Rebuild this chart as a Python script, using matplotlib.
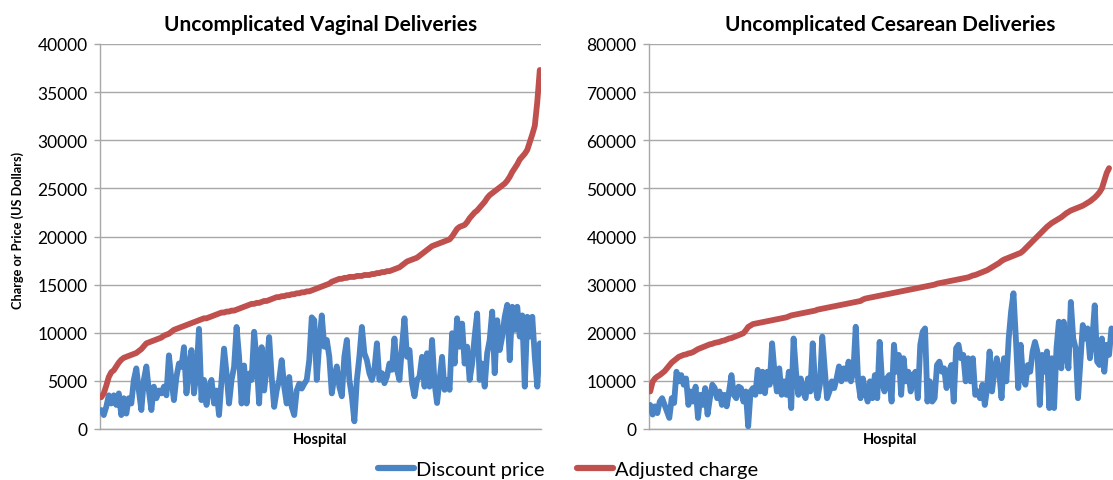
import matplotlib
matplotlib.use("Agg")
import matplotlib.pyplot as plt
from matplotlib.lines import Line2D
import numpy as np

plt.rcParams['font.family'] = ['Lato', 'DejaVu Sans']

titles = ["Uncomplicated Vaginal Deliveries", "Uncomplicated Cesarean Deliveries"]
series_names = ["Discount price", "Adjusted charge"]
y_label = "Charge or Price (US Dollars)"
x_label = "Hospital"

vag_discount = [
    1970, 1450, 2300, 3500, 2650, 3500, 2500, 3700, 1450, 3200,
    1600, 3200, 2650, 5100, 6300, 4000, 1970, 5100, 6500, 4000,
    1970, 4400, 3200, 4000, 3700, 4400, 3500, 7650, 5100, 3000,
    5400, 6800, 6450, 8500, 3700, 6450, 8200, 3700, 5760, 10400,
    3000, 5100, 2500, 4400, 5100, 2650, 4000, 1450, 5100, 8350,
    5760, 2650, 5100, 6450, 10600, 7500, 2650, 6600, 2650, 5760,
    5100, 10100, 7150, 2650, 8500, 4000, 6450, 9550, 5400, 2300,
    4000, 5100, 7150, 4400, 2650, 5400, 2300, 1450, 4000, 4700,
    4200, 4700, 5100, 7150, 11600, 11300,
    5100, 8900, 11800, 8550, 9250, 7500, 3700, 5450, 6500, 4400,
    3400, 7500, 9250, 5100, 3400, 800, 5100, 7500, 10600, 7870,
    7150, 5800, 5100, 6150, 8900, 5100, 5800, 4760, 5450, 6800,
    6150, 9400, 6150, 5100, 8550, 11500, 7500, 8200, 4760, 3400,
    5100, 5450, 7500, 4400, 7870, 4400, 9250, 4760, 2700, 5100,
    7500, 4070, 5100, 4070, 9950, 6800, 11500, 8550, 10950, 6800,
    8550, 5100, 6800, 9600, 12000, 5100, 6800, 4400, 7870, 9250,
    12200, 5800, 11300, 8200, 9600, 11660, 12900, 7150, 12700, 10300,
    12700, 9600, 11800, 4400, 11660, 9600, 11660, 7500, 4400, 8900,
]

vag_charge = [
    3300, 3700, 4500, 5400, 5900, 6100, 6500, 6900, 7200, 7400,
    7500, 7600, 7700, 7800, 7900, 8100, 8300, 8600, 8900, 9000,
    9100, 9200, 9300, 9400, 9500, 9700, 9800, 9900, 10100, 10300,
    10400, 10500, 10600, 10700, 10800, 10900, 11000, 11100, 11200, 11300,
    11400, 11500, 11500, 11600, 11700, 11800, 11900, 12000, 12100, 12100,
    12200, 12200, 12300, 12300, 12400, 12500, 12600, 12700, 12800, 12900,
    13000, 13000, 13100, 13100, 13200, 13300, 13300, 13400, 13500, 13600,
    13700, 13700, 13800, 13800, 13900, 13900, 14000, 14000, 14100, 14100,
    14200, 14200, 14300, 14300, 14400, 14500, 14600, 14700, 14800, 14900,
    15000, 15100, 15300, 15400, 15500, 15600, 15600, 15700, 15700, 15800,
    15800, 15800, 15900, 15900, 15900, 16000, 16000, 16000, 16100, 16100,
    16200, 16200, 16300, 16300, 16400, 16400, 16500, 16600, 16700, 16800,
    17000, 17200, 17400, 17500, 17600, 17700, 17800, 18000, 18200, 18400,
    18600, 18800, 19000, 19100, 19200, 19300, 19400, 19500, 19600, 19700,
    20000, 20400, 20800, 21000, 21100, 21200, 21500, 21900, 22200, 22500,
    22700, 23000, 23300, 23600, 24000, 24300, 24500, 24700, 24900, 25100,
    25300, 25500, 25800, 26200, 26700, 27100, 27500, 28000, 28300, 28600,
    29000, 29800, 30600, 31500, 34000, 37300,
]

ces_discount = [
    5000, 3000, 4700, 3300, 5700, 6400, 5000, 3650, 2300, 6400,
    5400, 11900, 9900, 11200, 9200, 10500, 5000, 7800, 5700, 8800,
    2300, 7100, 5000, 8500, 3000, 6400, 9200, 8500, 6400, 7800,
    5000, 7100, 4700, 7800, 11200, 7100, 6400, 8800, 8500, 5700,
    7800, 550, 7800, 8500, 7100, 12300, 7800, 11900, 7450, 11900,
    9200, 17800, 11900, 7800, 12600, 7100, 9900, 7100, 11900, 4350,
    18800, 11900, 7100, 10500, 7800, 6400, 10500, 7800, 17800, 9200,
    6400, 9200, 19200, 12600, 6400, 7800, 9900, 8500, 10500, 13000,
    9900, 12600, 10500, 14000, 9900, 11900, 21250, 9900, 6400, 10500,
    7800, 5700, 9900, 6400, 11200, 6400, 18100,
    9900, 7800, 10500, 11200, 5700, 17500, 11900, 15400,
    7100, 14700, 9900, 11900, 7800, 11200, 11900, 6400, 17500, 20200,
    20900, 5700, 9900, 5700, 6400, 13300, 14000, 11900, 12600, 8500,
    11900, 13300, 5700, 16800, 17500, 14700, 15400, 9900, 14700, 9900,
    14700, 7100, 7800, 6400, 9200, 5000, 8500, 16100, 7800, 11900,
    14700, 11900, 6400, 14700, 9900, 18800, 24400, 28200, 18800, 8500,
    17500, 10500, 9200, 13300, 11900, 16100, 18100, 16100, 5000, 15400,
    11900, 16100, 4350, 14700, 4350, 16800, 22300, 12600, 22300, 15400,
    12600, 26400, 18800, 16800, 6400, 14000, 21600, 18800, 20900, 14700,
    18800, 25700, 14000, 13300, 18800, 11900, 17500, 15400, 20900,
]

ces_charge = [
    7800, 9800, 10500, 10900, 11200, 11600, 12000, 12600, 13200, 13800,
    14200, 14600, 15000, 15200, 15400, 15500, 15700, 15800, 16000, 16300,
    16600, 16800, 17000, 17200, 17400, 17600, 17700, 17900, 18000, 18100,
    18300, 18400, 18600, 18800, 18900, 19100, 19300, 19500, 19700, 19900,
    20500, 21200, 21500, 21800, 21900, 22000, 22100, 22200, 22300, 22400,
    22500, 22600, 22700, 22800, 22900, 23000, 23100, 23200, 23400, 23600,
    23700, 23800, 23900, 24000, 24100, 24200, 24300, 24400, 24500, 24600,
    24800, 24900, 25000, 25100, 25200, 25300, 25400, 25500, 25600, 25700,
    25800, 25900, 26000, 26100, 26200, 26300, 26400, 26500, 26600, 26900,
    27100, 27200, 27300, 27400, 27500, 27600, 27700, 27800, 27900,
    28000, 28100, 28200, 28300, 28400, 28500, 28600, 28700, 28800, 28900,
    29000, 29100, 29200, 29300, 29400, 29500, 29600, 29700, 29800, 29900,
    30000, 30200, 30300, 30400, 30500, 30600, 30700, 30800, 30900, 31000,
    31100, 31200, 31300, 31400, 31500, 31700, 31900, 32000, 32200, 32400,
    32600, 32800, 33000, 33300, 33600, 33900, 34200, 34500, 34900, 35200,
    35400, 35600, 35800, 36000, 36200, 36400, 36600, 37000, 37500, 38000,
    38500, 39000, 39500, 40000, 40500, 41000, 41500, 42000, 42400, 42800,
    43100, 43400, 43700, 44000, 44400, 44800, 45100, 45400, 45600, 45800,
    46000, 46200, 46400, 46700, 47000, 47300, 47700, 48100, 48600, 49200,
    50000, 51600, 53200, 54200,
]

vag_ticks = [0, 5000, 10000, 15000, 20000, 25000, 30000, 35000, 40000]
ces_ticks = [0, 10000, 20000, 30000, 40000, 50000, 60000, 70000, 80000]

BLUE = '#4A84C5'
RED = '#C0504D'
GRID = '#A8A8A8'

W, H = 1113, 481
fig = plt.figure(figsize=(W / 100, H / 100), dpi=100)

def px_axes(x0, x1, ytop, ybot):
    return fig.add_axes([x0 / W, (H - ybot) / H, (x1 - x0) / W, (ybot - ytop) / H])

ax1 = px_axes(100, 541, 45, 430)
ax2 = px_axes(649, 1131, 45, 430)

panels = [
    (ax1, vag_discount, vag_charge, vag_ticks, 2.506, titles[0]),
    (ax2, ces_discount, ces_charge, ces_ticks, 2.39, titles[1]),
]

for ax, disc, chg, ticks, spacing, title in panels:
    ax.plot(np.arange(len(disc)), disc, color=BLUE, lw=4.2, solid_joinstyle='round',
            solid_capstyle='round', zorder=3)
    ax.plot(np.arange(len(chg)), chg, color=RED, lw=4.2, solid_joinstyle='round',
            solid_capstyle='round', zorder=4)
    width_px = ax.get_position().width * W
    ax.set_xlim(-0.5, width_px / spacing - 0.5)
    ax.set_ylim(ticks[0], ticks[-1])
    ax.set_yticks(ticks)
    ax.set_yticklabels([str(t) for t in ticks], fontsize=12.5)
    ax.set_xticks([])
    ax.grid(axis='y', color=GRID, lw=1.0)
    ax.set_axisbelow(True)
    for s in ['top', 'right']:
        ax.spines[s].set_visible(False)
    for s in ['left', 'bottom']:
        ax.spines[s].set_color(GRID)
        ax.spines[s].set_linewidth(1.0)
    ax.tick_params(axis='y', length=4, width=1, color=GRID, pad=5, labelcolor='black')
    ax.set_title(title, fontsize=15, fontweight='bold', pad=10)
    ax.set_xlabel(x_label, fontsize=10.5, fontweight='bold', labelpad=2)

fig.text(18 / W, (H - 230) / H, y_label, rotation=90, fontsize=9.2, fontweight='bold',
         ha='center', va='center')

handles = [Line2D([], [], color=BLUE, lw=4.5, solid_capstyle='round'),
           Line2D([], [], color=RED, lw=4.5, solid_capstyle='round')]
fig.legend(handles, series_names, loc='center', bbox_to_anchor=(568 / W, (H - 470) / H),
           ncol=2, frameon=False, fontsize=14.5, handlelength=1.8, handletextpad=0.1,
           columnspacing=1.6, borderpad=0)

fig.savefig('out.png', dpi=100)
